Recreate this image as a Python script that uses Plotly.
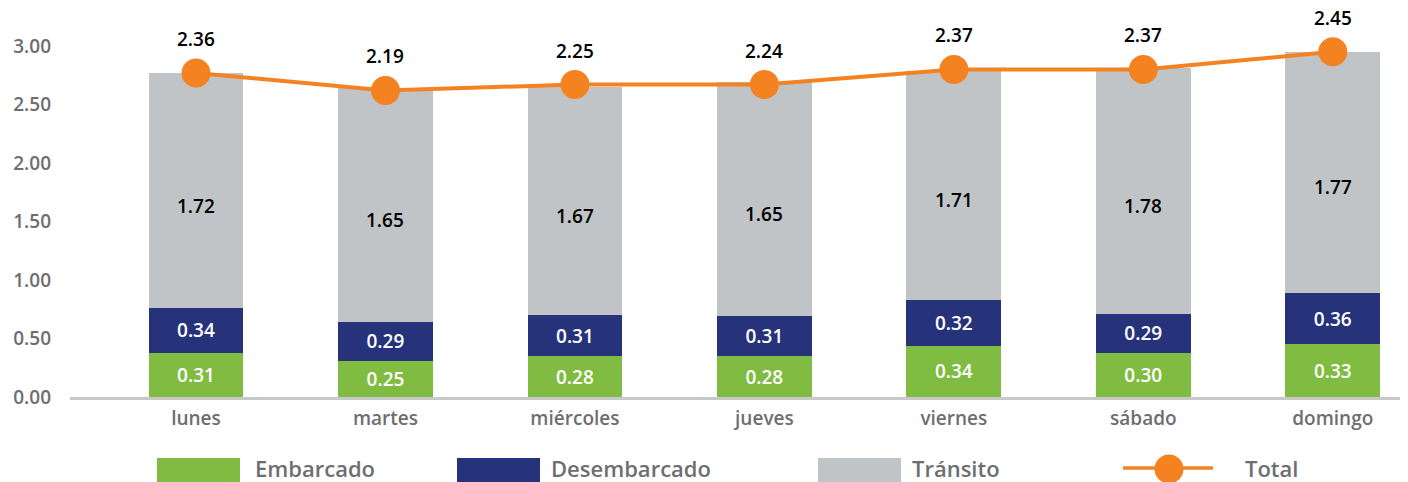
import plotly.graph_objects as go

# ---------------- data ----------------
dias = ["lunes", "martes", "miércoles", "jueves", "viernes", "sábado", "domingo"]

# bar segment heights as drawn (axis units)
embarcado = [0.38, 0.31, 0.35, 0.35, 0.44, 0.38, 0.45]
desembarcado = [0.38, 0.33, 0.35, 0.34, 0.39, 0.33, 0.44]
transito = [2.01, 2.00, 1.95, 2.00, 1.96, 2.10, 2.06]
total = [2.77, 2.62, 2.67, 2.67, 2.80, 2.80, 2.95]

# printed labels
embarcado_lbl = [0.31, 0.25, 0.28, 0.28, 0.34, 0.30, 0.33]
desembarcado_lbl = [0.34, 0.29, 0.31, 0.31, 0.32, 0.29, 0.36]
transito_lbl = [1.72, 1.65, 1.67, 1.65, 1.71, 1.78, 1.77]
total_lbl = [2.36, 2.19, 2.25, 2.24, 2.37, 2.37, 2.45]

y_ticks = [0, 0.5, 1.0, 1.5, 2.0, 2.5, 3.0]

# ---------------- style ----------------
GREEN = "#80bc41"
NAVY = "#26337a"
GRAY = "#c1c4c7"
ORANGE = "#f48221"
TXT = "#6d6e71"
FONT = "Open Sans"

OFF = 8  # page body margin
W, H = 1408 - OFF, 482 - OFF
ML, MR, MT, MB = 70 - OFF, 0, 20 - OFF, 482 - 397
PW, PH = W - ML - MR, H - MT - MB


def px_x(p):
    # p given in screenshot pixels
    return (p - OFF - ML) / PW


def px_y(p):
    return (H - MB - (p - OFF)) / PH


fig = go.Figure()

lbl_font_w = dict(family=FONT, size=19, color="white", weight=600)

fig.add_trace(go.Bar(
    x=dias, y=embarcado, name="Embarcado", marker_color=GREEN,
    marker_line_width=0, width=0.5,
    text=[f"{v:.2f}" for v in embarcado_lbl], textposition="inside",
    insidetextanchor="middle", textangle=0, constraintext="none",
    textfont=lbl_font_w, showlegend=False, hoverinfo="skip"))
fig.add_trace(go.Bar(
    x=dias, y=desembarcado, name="Desembarcado", marker_color=NAVY,
    marker_line_width=0, width=0.5,
    text=[f"{v:.2f}" for v in desembarcado_lbl], textposition="inside",
    insidetextanchor="middle", textangle=0, constraintext="none",
    textfont=lbl_font_w, showlegend=False, hoverinfo="skip"))
fig.add_trace(go.Bar(
    x=dias, y=transito, name="Tránsito", marker_color=GRAY,
    marker_line_width=0, width=0.5, showlegend=False, hoverinfo="skip"))
fig.add_trace(go.Scatter(
    x=dias, y=total, name="Total", mode="lines+markers",
    line=dict(color=ORANGE, width=4),
    marker=dict(color=ORANGE, size=29), showlegend=False, hoverinfo="skip",
    cliponaxis=False))

annotations = []
# Tránsito labels (slightly below segment centre like the original)
for d, e, ds, t, lab in zip(dias, embarcado, desembarcado, transito, transito_lbl):
    annotations.append(dict(
        x=d, y=e + ds + t / 2, xref="x", yref="y", text=f"{lab:.2f}",
        showarrow=False, yshift=-15,
        font=dict(family=FONT, size=19, color="black", weight=600)))
# Total labels
for d, v, lab in zip(dias, total, total_lbl):
    annotations.append(dict(
        x=d, y=v, xref="x", yref="y", text=f"{lab:.2f}", showarrow=False,
        yshift=34, borderpad=0,
        font=dict(family=FONT, size=19, color="black", weight=600)))

# custom legend (positions in screenshot pixels)
shapes = []
leg_y0, leg_y1 = px_y(458), px_y(484)
leg_items = [
    (157, 240, GREEN, 253, "Embarcado"),
    (457, 540, NAVY, 549, "Desembarcado"),
    (818, 901, GRAY, 910, "Tránsito"),
]
for x0, x1, col, tx, name in leg_items:
    shapes.append(dict(type="rect", xref="paper", yref="paper",
                       x0=px_x(x0), x1=px_x(x1), y0=leg_y1, y1=leg_y0,
                       fillcolor=col, line_width=0, layer="above"))
    annotations.append(dict(x=px_x(tx), y=px_y(468), xref="paper", yref="paper",
                            xanchor="left", yanchor="middle", text=name,
                            showarrow=False,
                            font=dict(family=FONT, size=22, color=TXT, weight=600)))
shapes.append(dict(type="line", xref="paper", yref="paper",
                   x0=px_x(1123), x1=px_x(1213), y0=px_y(468), y1=px_y(468),
                   line=dict(color=ORANGE, width=3.5)))
shapes.append(dict(type="circle", xref="paper", yref="paper",
                   xsizemode="pixel", ysizemode="pixel",
                   xanchor=px_x(1169), yanchor=px_y(469),
                   x0=-14.5, x1=14.5, y0=-14.5, y1=14.5,
                   fillcolor=ORANGE, line_width=0))
annotations.append(dict(x=px_x(1243), y=px_y(468), xref="paper", yref="paper",
                        xanchor="left", yanchor="middle", text="Total",
                        showarrow=False,
                        font=dict(family=FONT, size=22, color=TXT, weight=600)))

fig.update_layout(
    width=W, height=H, barmode="stack",
    margin=dict(l=ML, r=MR, t=MT, b=MB, pad=0),
    paper_bgcolor="white", plot_bgcolor="white",
    font=dict(family=FONT, color=TXT),
    annotations=annotations, shapes=shapes,
    xaxis=dict(type="category", range=[-0.665, 6.397], showgrid=False,
               showline=True, linecolor="#c6c8ca", linewidth=3,
               ticks="", ticklabelstandoff=2,
               tickfont=dict(family=FONT, size=19, color=TXT, weight=600)),
    yaxis=dict(range=[0, PH / 117.0], showgrid=False, zeroline=False,
               showline=False, tickvals=y_ticks, tickformat=".2f", ticks="",
               ticklabelstandoff=18,
               tickfont=dict(family=FONT, size=19, color=TXT, weight=600)),
)

fig.write_html("out.html")
